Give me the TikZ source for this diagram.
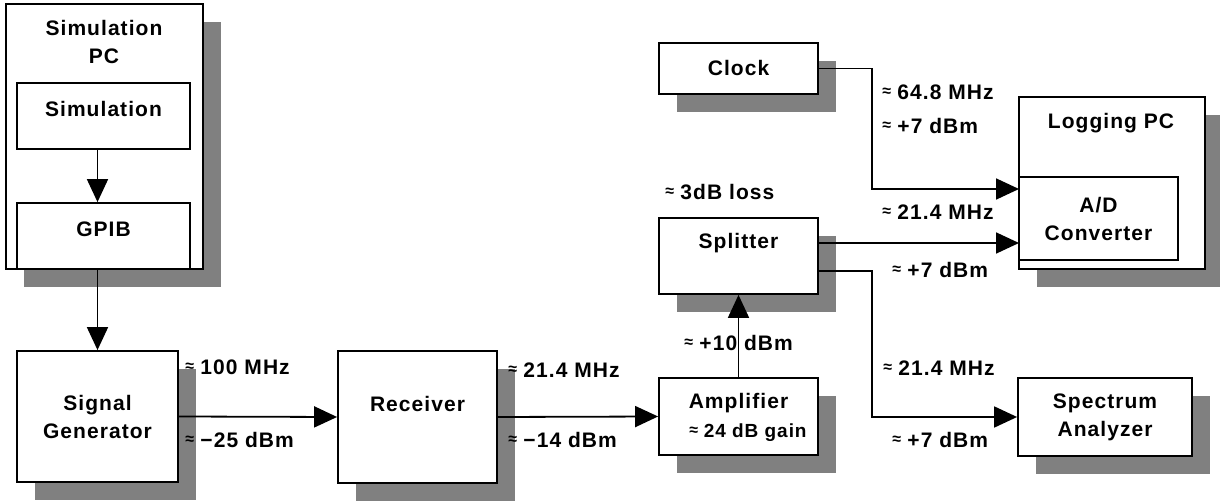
\documentclass[tikz,border=0pt]{standalone}
\usepackage{fontspec}
\setmainfont[LetterSpace=5]{Liberation Sans}
\usetikzlibrary{arrows.meta,shadows}
\definecolor{shadowgray}{RGB}{128,128,128}
\newcommand{\apx}{\raisebox{0.25ex}{\fontsize{8pt}{8pt}\selectfont ≈}\hspace{0.3em}}

\begin{document}
\begin{tikzpicture}[x=0.5pt,y=-0.5pt,
  font=\fontsize{10.5pt}{14pt}\selectfont\bfseries,
  box/.style={draw, line width=0.9pt, fill=white, inner sep=0pt},
  shbox/.style={box, drop shadow={shadow xshift=9pt, shadow yshift=-9pt, fill=shadowgray, opacity=1}},
  conn/.style={line width=0.9pt, -{Triangle[length=11.5pt,width=10.5pt]}},
  txt/.style={align=center, inner sep=0pt},
  lbl/.style={anchor=west, inner sep=0pt}]
\useasboundingbox (0,0) rectangle (1220,501);

% boxes
\node [shbox, minimum width=98.5pt, minimum height=132.5pt] (simpc) at (104.5,136.5) {};
\node [box, minimum width=86.5pt, minimum height=33pt] (simbox) at (103.5,116) {};
\node [box, minimum width=86.5pt, minimum height=33pt] (gpib) at (103.5,236) {};
\node [shbox, minimum width=80.5pt, minimum height=65.5pt, align=center] (siggen) at (97.5,416.5) {Signal\\Generator};
\node [shbox, minimum width=79.5pt, minimum height=66pt] (receiver) at (417.5,417) {};
\node [shbox, minimum width=79.5pt, minimum height=38.5pt] (amp) at (738.5,416.5) {};
\node [shbox, minimum width=79.5pt, minimum height=38pt] (splitter) at (738.5,256) {};
\node [shbox, minimum width=79.5pt, minimum height=25.5pt] (clock) at (738.5,68.5) {Clock};
\node [shbox, minimum width=93pt, minimum height=86pt] (logpc) at (1112,183) {};
\node [box, minimum width=79.5pt, minimum height=41.5pt, align=center] (adc) at (1098.5,218.5) {A/D\\Converter};
\node [shbox, minimum width=87pt, minimum height=39pt, align=center] (spec) at (1105,417) {Spectrum\\Analyzer};

% box titles
\node [txt] (simpctxt) at (104,42) {Simulation\\PC};
\node [txt] (simtxt) at (103.5,109) {Simulation};
\node [txt] (gpibtxt) at (103.5,229) {GPIB};
\node [txt] (rectxt) at (417.5,404) {Receiver};
\node [txt] (amptxt) at (738.5,403) {Amplifier};
\node [txt, font=\fontsize{9.5pt}{12pt}\selectfont\bfseries] (gaintxt) at (748,433) {\apx 24 dB gain};
\node [txt] (spltxt) at (738.5,243) {Splitter};
\node [txt] (logtxt) at (1111,123) {Logging PC};

% signal levels
\node [lbl] (l1) at (185,367) {\apx 100 MHz};
\node [lbl] (l2) at (185,440) {\apx −25 dBm};
\node [lbl] (l3) at (508,370) {\apx 21.4 MHz};
\node [lbl] (l4) at (508,440) {\apx −14 dBm};
\node [lbl] (l5) at (684,343) {\apx +10 dBm};
\node [lbl] (l6) at (665,192) {\apx 3dB loss};
\node [lbl] (l7) at (882,92) {\apx 64.8 MHz};
\node [lbl] (l8) at (882,126) {\apx +7 dBm};
\node [lbl] (l9) at (882,212) {\apx 21.4 MHz};
\node [lbl] (l10) at (892,270) {\apx +7 dBm};
\node [lbl] (l11) at (883,368) {\apx 21.4 MHz};
\node [lbl] (l12) at (892,440) {\apx +7 dBm};

% connectors
\coordinate (tap) at (872,0);
\coordinate (adcA) at (1019,189);
\coordinate (adcB) at (1019,243);
\coordinate (splB) at (818,271);
\draw [conn] (simbox.south -| siggen.north) -- (gpib.north -| siggen.north);
\draw [conn] (gpib.south -| siggen.north) -- (siggen.north);
\draw [conn] (siggen.east) -- (receiver.west);
\draw [conn] (receiver.east) -- (amp.west);
\draw [conn] (amp.north) -- (splitter.south);
\draw [conn] (clock.east) -| (tap |- adcA) -- (adcA);
\draw [conn] (splitter.east |- adcB) -- (adcB);
\draw [conn] (splB) -| (tap |- spec.west) -- (spec.west);
\end{tikzpicture}
\end{document}
